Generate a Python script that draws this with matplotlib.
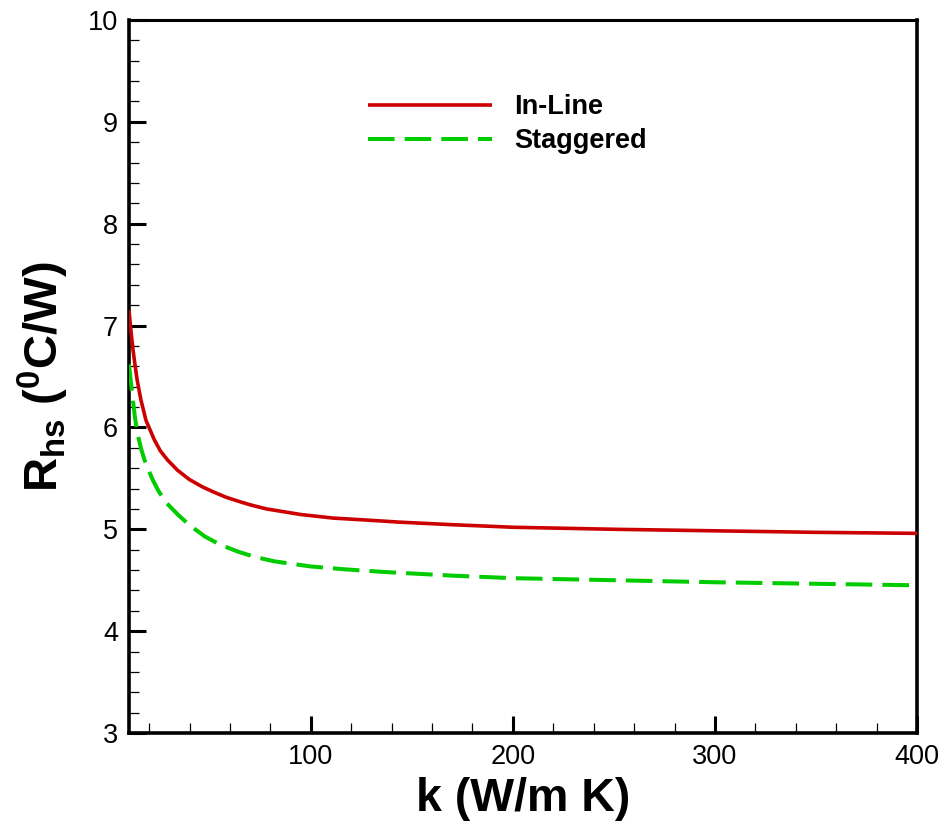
import matplotlib
matplotlib.use("Agg")
import matplotlib.pyplot as plt
from matplotlib.ticker import MultipleLocator, FixedLocator

plt.rcParams['font.family'] = ['Liberation Sans', 'DejaVu Sans']
plt.rcParams['mathtext.fontset'] = 'custom'
plt.rcParams['mathtext.rm'] = 'Liberation Sans'
plt.rcParams['mathtext.bf'] = 'Liberation Sans:bold'
plt.rcParams['mathtext.it'] = 'Liberation Sans:italic'

# thermal conductivity of the heat-sink material, W/m K
k_inline = [10, 11, 12, 13, 14, 15.9, 18.4, 22.5, 25.5, 29.1, 34, 39.8, 46,
            51.4, 58, 65, 70, 78, 95, 111, 128, 144, 170, 200, 250, 300,
            350, 400]
r_inline = [7.15, 6.94, 6.76, 6.61, 6.47, 6.27, 6.07, 5.88, 5.77, 5.68, 5.58,
            5.49, 5.42, 5.37, 5.315, 5.27, 5.24, 5.20, 5.145, 5.11, 5.09,
            5.07, 5.045, 5.02, 5.00, 4.985, 4.97, 4.96]

k_stag = [10, 11, 11.8, 13, 14.3, 16, 17.6, 20, 22, 24.5, 28, 34.4, 40,
          47.5, 55, 64, 72, 82, 100, 118, 137, 170, 200, 250, 300, 350, 400]
r_stag = [6.62, 6.43, 6.29, 6.09, 5.93, 5.79, 5.685, 5.565, 5.475, 5.38, 5.27,
          5.14, 5.04, 4.93, 4.85, 4.78, 4.73, 4.685, 4.635, 4.605, 4.58,
          4.545, 4.52, 4.50, 4.48, 4.465, 4.45]

x_ticks = [100, 200, 300, 400]
y_ticks = [3, 4, 5, 6, 7, 8, 9, 10]

fig = plt.figure(figsize=(9.48, 8.27), dpi=100)
ax = fig.add_axes([129 / 948, 1 - 733 / 827, (917 - 129) / 948, (733 - 20) / 827])

ax.plot(k_inline, r_inline, color='#cc0000', lw=2.6, label='In-Line',
        solid_capstyle='butt', solid_joinstyle='round', zorder=3)
ax.plot(k_stag, r_stag, color='#00cc00', lw=2.9, dashes=(6.6, 2.5),
        label='Staggered', dash_capstyle='butt', zorder=3)

ax.set_xlim(10, 400)
ax.set_ylim(3, 10)
ax.xaxis.set_major_locator(FixedLocator(x_ticks))
ax.xaxis.set_minor_locator(MultipleLocator(20))
ax.yaxis.set_major_locator(FixedLocator(y_ticks))
ax.yaxis.set_minor_locator(MultipleLocator(0.2))

ax.tick_params(which='both', direction='in', top=False, right=False,
               labelsize=19.5)
ax.tick_params(which='major', length=12.5, width=2.2, pad=8)
ax.tick_params(which='minor', length=7, width=0.9)
for s in ax.spines.values():
    s.set_linewidth(2.6)
ax.spines['top'].set_linewidth(2.2)

ax.set_xlabel('k (W/m K)', fontsize=33.5, fontweight='bold', labelpad=5)
ax.set_ylabel(r'$\mathbf{R_{hs}\ (^{0}C/W)}$', fontsize=34, labelpad=12)

ax.legend(loc='upper left', bbox_to_anchor=(0.3027, 0.896), frameon=False,
          prop={'weight': 'bold', 'size': 19.5},
          handlelength=4.6, handletextpad=0.8, labelspacing=0.3,
          borderpad=0, borderaxespad=0)

fig.savefig('out.png', dpi=100)
